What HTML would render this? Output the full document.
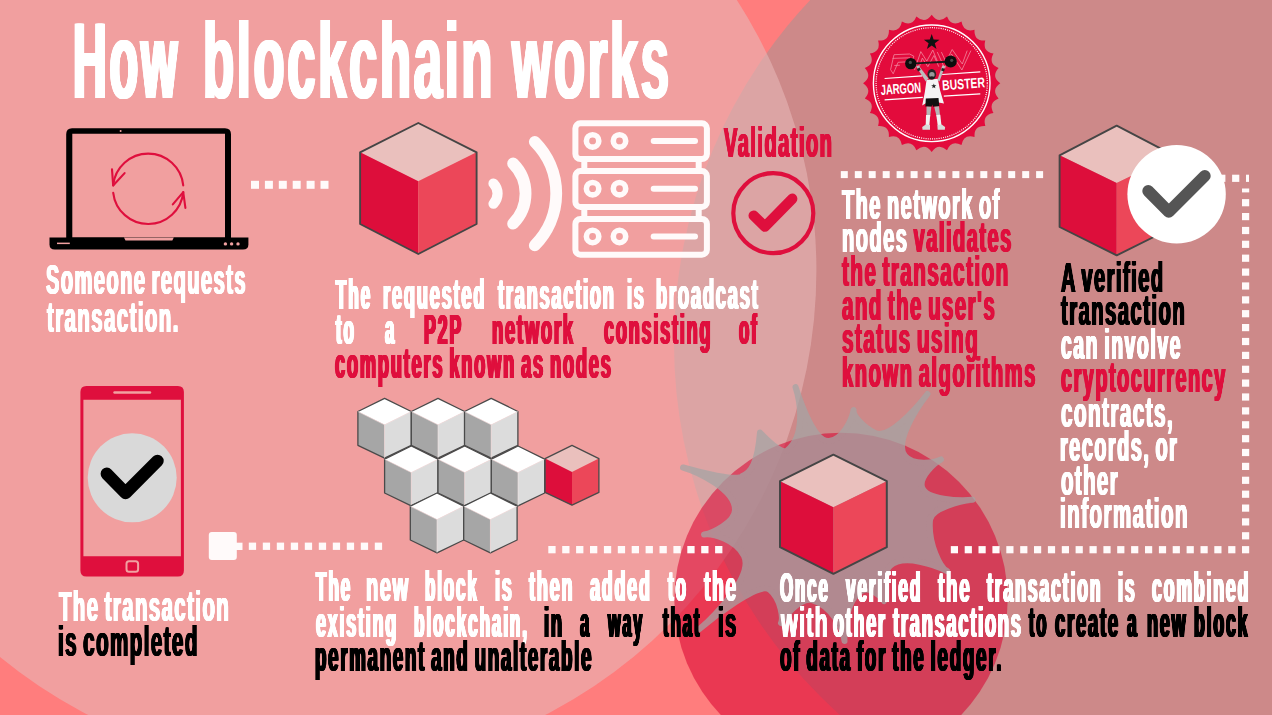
<!DOCTYPE html>
<html><head><meta charset="utf-8"><title>How blockchain works</title>
<style>
html,body{margin:0;padding:0;background:#FF7D7D;}
body{width:1272px;height:715px;position:relative;overflow:hidden;font-family:"Liberation Sans",sans-serif;}
.t{position:absolute;white-space:nowrap;font-family:"Liberation Sans",sans-serif;font-weight:bold;transform-origin:0 0;margin:0;padding:0;will-change:transform;}
</style></head>
<body>
<svg width="1272" height="715" viewBox="0 0 1272 715" style="position:absolute;left:0;top:0"><rect width="1272" height="715" fill="#FF7D7D"/><circle cx="1174" cy="343" r="500" fill="rgb(151,151,151)" fill-opacity="0.48"/><circle cx="316.7" cy="270.5" r="499.7" fill="rgb(231,185,185)" fill-opacity="0.58"/><circle cx="841" cy="599.5" r="166.7" fill="rgb(217,0,48)" fill-opacity="0.55"/><g opacity="0.73"><path d="M683.0,467.5 C696.9,471.6 739.6,482.1 742.0,476.0 C751.0,473.0 757.5,463.0 760.0,432.5 C773.1,446.2 783.1,453.6 787.0,450.5 C805.1,436.1 800.9,403.6 795.5,387.0 C801.6,405.9 815.0,442.4 829.0,441.0 C842.7,439.6 851.9,419.6 853.6,410.0 C852.8,414.6 861.8,426.5 875.0,433.0 C888.4,439.6 915.1,410.0 927.5,394.0 C915.3,409.8 894.3,442.8 905.0,456.0 C913.0,465.9 934.0,463.0 941.0,459.5 C934.2,462.9 919.1,476.9 922.0,487.0 C925.7,499.7 959.5,501.0 972.5,499.8 C960.8,500.8 931.0,508.2 930.0,520.0 C927.9,544.6 940.9,567.8 947.0,571.0 C937.4,565.9 903.0,553.0 890.0,566.0 C879.8,576.2 881.4,596.2 884.0,601.0 C882.1,597.5 871.1,587.4 864.0,590.0 C847.3,596.0 843.7,628.3 844.5,641.0 C843.8,630.6 832.3,605.5 812.0,600.0 C800.5,596.9 784.2,616.6 781.0,623.0 C783.1,618.7 781.3,599.6 770.0,590.0 C759.1,580.8 710.8,619.3 699.5,629.0 C710.9,619.3 754.1,577.0 744.0,556.0 C736.1,539.5 711.8,533.2 704.0,534.5 C712.0,533.1 734.8,522.6 735.0,510.0 C735.4,489.3 696.9,471.5 683.0,467.5Z" fill="rgb(165,165,165)" stroke="rgb(165,165,165)" stroke-width="6" stroke-linejoin="round"/></g><g><path d="M72,128.3 H225 Q231,128.3 231,134.3 V238 H66.2 V134.3 Q66.2,128.3 72,128.3 Z M72.3,133.8 V237.5 H225 V133.8 Z" fill="#000" fill-rule="evenodd"/><path d="M49.5,237.6 H248.4 V244.5 Q248.4,249.6 243,249.6 H54.8 Q49.5,249.6 49.5,244.5 Z" fill="#000"/><path d="M124,237.6 H173.8 L172.3,240.6 H125.5 Z" fill="#F1A1A1"/><rect x="57" y="242.6" width="12.8" height="1.5" fill="#F1A1A1"/><circle cx="225.4" cy="243.9" r="1.7" fill="#F1A1A1"/><circle cx="231.6" cy="243.9" r="1.7" fill="#F1A1A1"/><circle cx="238" cy="243.9" r="1.7" fill="#F1A1A1"/><circle cx="120.6" cy="130.9" r="1" fill="#F1A1A1"/><g fill="none" stroke="#DF0F3D" stroke-width="2.1" stroke-linecap="round" stroke-linejoin="round"><path d="M183.24,185.43 A35.2,35.2 0 0 0 113.16,185.43"/><path d="M112,169.4 L113.16,185.43 L124.6,173.1"/><path d="M113.23,192.78 A35.2,35.2 0 0 0 183.24,192.17"/><path d="M185.4,207.9 L183.24,192.17 L172.8,204.4"/></g></g><g fill="#FFFAFA"><rect x="251.0" y="180.8" width="8.0" height="8.0"/><rect x="264.9" y="180.8" width="8.0" height="8.0"/><rect x="278.8" y="180.8" width="8.0" height="8.0"/><rect x="292.7" y="180.8" width="8.0" height="8.0"/><rect x="306.6" y="180.8" width="8.0" height="8.0"/><rect x="320.5" y="180.8" width="8.0" height="8.0"/><rect x="840.8" y="171.1" width="7.0" height="7.0"/><rect x="854.8" y="171.1" width="7.0" height="7.0"/><rect x="868.7" y="171.1" width="7.0" height="7.0"/><rect x="882.7" y="171.1" width="7.0" height="7.0"/><rect x="896.6" y="171.1" width="7.0" height="7.0"/><rect x="910.6" y="171.1" width="7.0" height="7.0"/><rect x="924.5" y="171.1" width="7.0" height="7.0"/><rect x="938.5" y="171.1" width="7.0" height="7.0"/><rect x="952.4" y="171.1" width="7.0" height="7.0"/><rect x="966.4" y="171.1" width="7.0" height="7.0"/><rect x="980.3" y="171.1" width="7.0" height="7.0"/><rect x="994.3" y="171.1" width="7.0" height="7.0"/><rect x="1008.2" y="171.1" width="7.0" height="7.0"/><rect x="1022.2" y="171.1" width="7.0" height="7.0"/><rect x="1036.1" y="171.1" width="7.0" height="7.0"/><rect x="1232.1" y="174.7" width="7.2" height="7.2"/><rect x="1218.2" y="174.7" width="7.2" height="7.2"/><rect x="1204.4" y="174.7" width="7.2" height="7.2"/><rect x="1246" y="174.7" width="3" height="7.2"/><rect x="1242.0" y="546.1" width="7.2" height="7.2"/><rect x="1242.0" y="532.2" width="7.2" height="7.2"/><rect x="1242.0" y="518.3" width="7.2" height="7.2"/><rect x="1242.0" y="504.5" width="7.2" height="7.2"/><rect x="1242.0" y="490.6" width="7.2" height="7.2"/><rect x="1242.0" y="476.7" width="7.2" height="7.2"/><rect x="1242.0" y="462.8" width="7.2" height="7.2"/><rect x="1242.0" y="448.9" width="7.2" height="7.2"/><rect x="1242.0" y="435.1" width="7.2" height="7.2"/><rect x="1242.0" y="421.2" width="7.2" height="7.2"/><rect x="1242.0" y="407.3" width="7.2" height="7.2"/><rect x="1242.0" y="393.4" width="7.2" height="7.2"/><rect x="1242.0" y="379.5" width="7.2" height="7.2"/><rect x="1242.0" y="365.7" width="7.2" height="7.2"/><rect x="1242.0" y="351.8" width="7.2" height="7.2"/><rect x="1242.0" y="337.9" width="7.2" height="7.2"/><rect x="1242.0" y="324.0" width="7.2" height="7.2"/><rect x="1242.0" y="310.1" width="7.2" height="7.2"/><rect x="1242.0" y="296.3" width="7.2" height="7.2"/><rect x="1242.0" y="282.4" width="7.2" height="7.2"/><rect x="1242.0" y="268.5" width="7.2" height="7.2"/><rect x="1242.0" y="254.6" width="7.2" height="7.2"/><rect x="1242.0" y="240.7" width="7.2" height="7.2"/><rect x="1242.0" y="226.9" width="7.2" height="7.2"/><rect x="1242.0" y="213.0" width="7.2" height="7.2"/><rect x="1242.0" y="199.1" width="7.2" height="7.2"/><rect x="1242.0" y="188.5" width="7.2" height="3.9"/><rect x="1228.2" y="546.1" width="7.2" height="7.2"/><rect x="1214.3" y="546.1" width="7.2" height="7.2"/><rect x="1200.5" y="546.1" width="7.2" height="7.2"/><rect x="1186.6" y="546.1" width="7.2" height="7.2"/><rect x="1172.7" y="546.1" width="7.2" height="7.2"/><rect x="1158.9" y="546.1" width="7.2" height="7.2"/><rect x="1145.0" y="546.1" width="7.2" height="7.2"/><rect x="1131.1" y="546.1" width="7.2" height="7.2"/><rect x="1117.2" y="546.1" width="7.2" height="7.2"/><rect x="1103.4" y="546.1" width="7.2" height="7.2"/><rect x="1089.5" y="546.1" width="7.2" height="7.2"/><rect x="1075.6" y="546.1" width="7.2" height="7.2"/><rect x="1061.8" y="546.1" width="7.2" height="7.2"/><rect x="1047.9" y="546.1" width="7.2" height="7.2"/><rect x="1034.0" y="546.1" width="7.2" height="7.2"/><rect x="1020.2" y="546.1" width="7.2" height="7.2"/><rect x="1006.3" y="546.1" width="7.2" height="7.2"/><rect x="992.4" y="546.1" width="7.2" height="7.2"/><rect x="978.5" y="546.1" width="7.2" height="7.2"/><rect x="964.7" y="546.1" width="7.2" height="7.2"/><rect x="950.8" y="546.1" width="7.2" height="7.2"/><rect x="548.3" y="546.0" width="7.3" height="7.3"/><rect x="562.2" y="546.0" width="7.3" height="7.3"/><rect x="576.1" y="546.0" width="7.3" height="7.3"/><rect x="590.0" y="546.0" width="7.3" height="7.3"/><rect x="603.9" y="546.0" width="7.3" height="7.3"/><rect x="617.8" y="546.0" width="7.3" height="7.3"/><rect x="631.7" y="546.0" width="7.3" height="7.3"/><rect x="645.6" y="546.0" width="7.3" height="7.3"/><rect x="659.5" y="546.0" width="7.3" height="7.3"/><rect x="673.4" y="546.0" width="7.3" height="7.3"/><rect x="687.3" y="546.0" width="7.3" height="7.3"/><rect x="701.2" y="546.0" width="7.3" height="7.3"/><rect x="715.1" y="546.0" width="7.3" height="7.3"/><rect x="208.8" y="532" width="28" height="28" rx="3"/><rect x="236" y="542.7" width="6.5" height="7.3"/><rect x="248.8" y="542.6" width="7.3" height="7.3"/><rect x="262.8" y="542.6" width="7.3" height="7.3"/><rect x="276.8" y="542.6" width="7.3" height="7.3"/><rect x="290.8" y="542.6" width="7.3" height="7.3"/><rect x="304.8" y="542.6" width="7.3" height="7.3"/><rect x="318.8" y="542.6" width="7.3" height="7.3"/><rect x="332.8" y="542.6" width="7.3" height="7.3"/><rect x="346.8" y="542.6" width="7.3" height="7.3"/><rect x="360.8" y="542.6" width="7.3" height="7.3"/><rect x="374.8" y="542.6" width="7.3" height="7.3"/></g><polygon points="418.3,123.0 476.6,152.3 418.3,181.3 360.1,152.3" fill="#EAC0BD"/><polygon points="360.1,152.3 418.3,181.3 418.3,254.0 360.1,224.0" fill="#DD0E3B"/><polygon points="418.3,181.3 476.6,152.3 476.6,224.0 418.3,254.0" fill="#EC4759"/><polygon points="418.3,123.0 476.6,152.3 476.6,224.0 418.3,254.0 360.1,224.0 360.1,152.3" fill="none" stroke="#454545" stroke-width="1.9" stroke-linejoin="round"/><g fill="none" stroke="#FFFAFA" stroke-linecap="round"><path d="M534.8,141.8 A73.3,73.3 0 0 1 534.8,245.4" stroke-width="11.8"/><path d="M513.1,163.5 A42.6,42.6 0 0 1 513.1,223.7" stroke-width="11.8"/><path d="M493.5,183.5 A14.6,14.6 0 0 1 493.5,203.7" stroke-width="10.2"/></g><g fill="none" stroke="#FFFAFA" stroke-width="6"><rect x="575.4" y="123.3" width="131.5" height="35.8" rx="5"/><rect x="575.4" y="171.1" width="131.5" height="35.8" rx="5"/><rect x="575.4" y="218.9" width="131.5" height="35.8" rx="5"/><path d="M584.3,159 V171 M698.7,159 V171 M584.3,207 V219 M698.7,207 V219"/></g><g fill="none" stroke="#FFFAFA"><circle cx="592.6" cy="140.9" r="6.2" stroke-width="5.6"/><circle cx="619.5" cy="140.9" r="6.2" stroke-width="5.6"/><line x1="653.7" y1="140.9" x2="695" y2="140.9" stroke-width="6" stroke-linecap="round"/><circle cx="592.6" cy="188.7" r="6.2" stroke-width="5.6"/><circle cx="619.5" cy="188.7" r="6.2" stroke-width="5.6"/><line x1="653.7" y1="188.7" x2="695" y2="188.7" stroke-width="6" stroke-linecap="round"/><circle cx="592.6" cy="236.5" r="6.2" stroke-width="5.6"/><circle cx="619.5" cy="236.5" r="6.2" stroke-width="5.6"/><line x1="653.7" y1="236.5" x2="695" y2="236.5" stroke-width="6" stroke-linecap="round"/></g><circle cx="773.3" cy="213.2" r="40" fill="none" stroke="#DF0F3D" stroke-width="4.2"/><path d="M753.7,215.6 L764.9,226.6 L792.2,198.8" fill="none" stroke="#DF0F3D" stroke-width="10.4" stroke-linecap="round" stroke-linejoin="round"/><g><path d="M1000.3,83.3 Q990.8,90.0 998.6,98.6 Q987.9,103.0 993.5,113.1 Q982.1,115.0 985.3,126.1 Q973.8,125.4 974.5,136.9 Q963.4,133.7 961.5,145.1 Q951.4,139.5 947.0,150.2 Q938.4,142.4 931.7,151.9 Q925.0,142.4 916.4,150.2 Q912.0,139.5 901.9,145.1 Q900.0,133.7 888.9,136.9 Q889.6,125.4 878.1,126.1 Q881.3,115.0 869.9,113.1 Q875.5,103.0 864.8,98.6 Q872.6,90.0 863.1,83.3 Q872.6,76.6 864.8,68.0 Q875.5,63.6 869.9,53.5 Q881.3,51.6 878.1,40.5 Q889.6,41.2 888.9,29.7 Q900.0,32.9 901.9,21.5 Q912.0,27.1 916.4,16.4 Q925.0,24.2 931.7,14.7 Q938.4,24.2 947.0,16.4 Q951.4,27.1 961.5,21.5 Q963.4,32.9 974.5,29.7 Q973.8,41.2 985.3,40.5 Q982.1,51.6 993.5,53.5 Q987.9,63.6 998.6,68.0 Q990.8,76.6 1000.3,83.3Z" fill="#E30B3C"/><circle cx="931.7" cy="83.3" r="58.3" fill="none" stroke="#fff" stroke-width="1.4"/><circle cx="931.7" cy="83.3" r="55.6" fill="none" stroke="#fff" stroke-width="1.2" stroke-dasharray="1 1.2"/><polygon points="931.7,34.1 933.6,39.6 939.5,39.8 934.8,43.3 936.5,48.9 931.7,45.6 926.9,48.9 928.6,43.3 923.9,39.8 929.8,39.6" fill="#111"/><g fill="none" stroke="#f59db0" stroke-width="0.75" stroke-linejoin="round" opacity="0.9"><polyline points="890.6,69.6 894.0,54.7 909.6,54.0 913.8,56.2 912.6,59.9 907.4,61.8 898.1,62.3 893.2,73.8 890.6,69.6"/><polyline points="892.5,58.4 910.0,57.8"/><polyline points="894.3,65.5 899.9,65.2"/><polyline points="914.5,70.0 920.8,51.6 926.8,61.1 932.8,50.1 937.3,61.1"/><polyline points="918.2,70.0 922.3,58.1 927.9,66.7 933.9,55.5 938.8,66.7"/><polyline points="937.3,52.1 944.7,68.3 951.5,54.0 961.9,70.0 970.9,50.6"/><polyline points="941.4,52.1 945.9,61.8 952.2,49.5 962.3,64.0 967.2,50.6"/></g><g stroke="#fff" stroke-width="1.2"><path d="M884.6,78.5 L922.2,75.9 M942.2,74.5 L980.3,71.9"/><path d="M884.6,99.8 L922.8,97.4 M943.8,96.1 L980.3,93.8"/></g><g font-family="Liberation Sans, sans-serif" font-weight="bold" font-size="14.3" fill="#fff"><text transform="translate(880.9,94.9) rotate(-3.8)" textLength="40.6" lengthAdjust="spacingAndGlyphs">JARGON</text><text transform="translate(942.5,90.3) rotate(-4.0)" textLength="42.8" lengthAdjust="spacingAndGlyphs">BUSTER</text></g><g><polygon points="926.5,79.9 937.8,78.8 940.1,90.5 944.0,103.5 938.5,102.4 925.8,103.2 922.2,105.4 924.9,91.8" fill="#f4f4f4"/><polygon points="925.8,81.5 916.1,66.6 918.5,65.2 928.5,78.5" fill="#bdbdbd"/><polygon points="937.4,79.9 942.4,65.2 945.1,66.0 939.5,81.5" fill="#bdbdbd"/><polygon points="916.9,69.0 919.6,67.6 920.7,70.0 918.0,71.4" fill="#222"/><polygon points="941.9,67.9 944.8,68.7 944.0,71.4 941.1,70.6" fill="#222"/><polygon points="925.8,98.5 938.5,97.9 939.3,106.2 932.9,106.7 932.3,104.6 931.5,106.7 925.4,106.4" fill="#111"/><polygon points="926.5,106.4 931.3,106.7 930.2,116.4 926.5,116.4" fill="#b5b5b5"/><polygon points="934.2,106.7 939.0,106.2 940.1,116.0 936.6,116.4" fill="#b5b5b5"/><polygon points="926.0,115.1 930.2,115.1 929.4,125.3 925.7,125.3" fill="#f2f2f2"/><polygon points="936.3,115.1 940.3,114.7 941.4,125.0 937.7,125.3" fill="#f2f2f2"/><polygon points="922.2,127.0 925.8,124.5 930.0,125.0 930.0,129.8 922.5,129.8" fill="#d8d8d8"/><polygon points="937.4,125.0 941.6,124.5 945.1,127.0 944.8,129.8 937.7,129.8" fill="#d8d8d8"/><ellipse cx="931.8" cy="74.3" rx="4.3" ry="5.2" fill="#262626"/><ellipse cx="931.9" cy="74.7" rx="2.7" ry="2.6" fill="#9a9a9a"/><ellipse cx="931.8" cy="77.7" rx="2.9" ry="1.5" fill="#1c1c1c"/><polygon points="933.8,83.4 934.5,85.2 936.4,85.3 934.9,86.4 935.4,88.3 933.8,87.2 932.2,88.3 932.8,86.4 931.2,85.3 933.2,85.2" fill="#222"/><line x1="910.8" y1="63.6" x2="950.7" y2="61.5" stroke="#1a1a1a" stroke-width="1.8"/><circle cx="910.8" cy="63.6" r="5.7" fill="#0d0d0d"/><circle cx="950.7" cy="61.5" r="6.1" fill="#0d0d0d"/><circle cx="910.3" cy="62.4" r="1.6" fill="#4a4a4a"/><circle cx="951.7" cy="60.3" r="1.6" fill="#4a4a4a"/></g></g><polygon points="1116.7,125.6 1173.8,155.3 1116.7,183.0 1059.6,155.3" fill="#EAC0BD"/><polygon points="1059.6,155.3 1116.7,183.0 1116.7,255.4 1059.6,227.0" fill="#DD0E3B"/><polygon points="1116.7,183.0 1173.8,155.3 1173.8,227.0 1116.7,255.4" fill="#EC4759"/><polygon points="1116.7,125.6 1173.8,155.3 1173.8,227.0 1116.7,255.4 1059.6,227.0 1059.6,155.3" fill="none" stroke="#454545" stroke-width="1.9" stroke-linejoin="round"/><circle cx="1176.6" cy="194.3" r="49.2" fill="#fff"/><path d="M1148.2,191 L1168.8,211.9 L1204.8,175.9" fill="none" stroke="#555" stroke-width="11.8" stroke-linecap="round" stroke-linejoin="round"/><polygon points="833.4,454.7 886.8,481.2 833.4,507.2 780.0,481.2" fill="#EAC0BD"/><polygon points="780.0,481.2 833.4,507.2 833.4,573.8 780.0,547.2" fill="#DD0E3B"/><polygon points="833.4,507.2 886.8,481.2 886.8,547.2 833.4,573.8" fill="#EC4759"/><polygon points="833.4,454.7 886.8,481.2 886.8,547.2 833.4,573.8 780.0,547.2 780.0,481.2" fill="none" stroke="#454545" stroke-width="2.0" stroke-linejoin="round"/><polygon points="384.6,398.3 411.3,411.5 384.6,424.8 357.9,411.5" fill="#FFFFFF"/><polygon points="357.9,411.5 384.6,424.8 384.6,458.1 357.9,445.3" fill="#A6A6A6"/><polygon points="384.6,424.8 411.3,411.5 411.3,445.3 384.6,458.1" fill="#DCDCDC"/><polygon points="384.6,398.3 411.3,411.5 411.3,445.3 384.6,458.1 357.9,445.3 357.9,411.5" fill="none" stroke="#4a4a4a" stroke-width="1.3" stroke-linejoin="round"/><polyline points="357.9,411.5 384.6,424.8 411.3,411.5" fill="none" stroke="#f3e4e4" stroke-width="0.6"/><polyline points="384.6,424.8 384.6,458.1" fill="none" stroke="#f3e4e4" stroke-width="0.6"/><polygon points="438.0,398.3 464.7,411.5 438.0,424.8 411.3,411.5" fill="#FFFFFF"/><polygon points="411.3,411.5 438.0,424.8 438.0,458.1 411.3,445.3" fill="#A6A6A6"/><polygon points="438.0,424.8 464.7,411.5 464.7,445.3 438.0,458.1" fill="#DCDCDC"/><polygon points="438.0,398.3 464.7,411.5 464.7,445.3 438.0,458.1 411.3,445.3 411.3,411.5" fill="none" stroke="#4a4a4a" stroke-width="1.3" stroke-linejoin="round"/><polyline points="411.3,411.5 438.0,424.8 464.7,411.5" fill="none" stroke="#f3e4e4" stroke-width="0.6"/><polyline points="438.0,424.8 438.0,458.1" fill="none" stroke="#f3e4e4" stroke-width="0.6"/><polygon points="491.2,398.3 517.9,411.5 491.2,424.8 464.5,411.5" fill="#FFFFFF"/><polygon points="464.5,411.5 491.2,424.8 491.2,458.1 464.5,445.3" fill="#A6A6A6"/><polygon points="491.2,424.8 517.9,411.5 517.9,445.3 491.2,458.1" fill="#DCDCDC"/><polygon points="491.2,398.3 517.9,411.5 517.9,445.3 491.2,458.1 464.5,445.3 464.5,411.5" fill="none" stroke="#4a4a4a" stroke-width="1.3" stroke-linejoin="round"/><polyline points="464.5,411.5 491.2,424.8 517.9,411.5" fill="none" stroke="#f3e4e4" stroke-width="0.6"/><polyline points="491.2,424.8 491.2,458.1" fill="none" stroke="#f3e4e4" stroke-width="0.6"/><polygon points="411.3,446.0 438.0,459.2 411.3,472.5 384.6,459.2" fill="#FFFFFF"/><polygon points="384.6,459.2 411.3,472.5 411.3,505.8 384.6,493.0" fill="#A6A6A6"/><polygon points="411.3,472.5 438.0,459.2 438.0,493.0 411.3,505.8" fill="#DCDCDC"/><polygon points="411.3,446.0 438.0,459.2 438.0,493.0 411.3,505.8 384.6,493.0 384.6,459.2" fill="none" stroke="#4a4a4a" stroke-width="1.3" stroke-linejoin="round"/><polyline points="384.6,459.2 411.3,472.5 438.0,459.2" fill="none" stroke="#f3e4e4" stroke-width="0.6"/><polyline points="411.3,472.5 411.3,505.8" fill="none" stroke="#f3e4e4" stroke-width="0.6"/><polygon points="464.7,446.0 491.4,459.2 464.7,472.5 438.0,459.2" fill="#FFFFFF"/><polygon points="438.0,459.2 464.7,472.5 464.7,505.8 438.0,493.0" fill="#A6A6A6"/><polygon points="464.7,472.5 491.4,459.2 491.4,493.0 464.7,505.8" fill="#DCDCDC"/><polygon points="464.7,446.0 491.4,459.2 491.4,493.0 464.7,505.8 438.0,493.0 438.0,459.2" fill="none" stroke="#4a4a4a" stroke-width="1.3" stroke-linejoin="round"/><polyline points="438.0,459.2 464.7,472.5 491.4,459.2" fill="none" stroke="#f3e4e4" stroke-width="0.6"/><polyline points="464.7,472.5 464.7,505.8" fill="none" stroke="#f3e4e4" stroke-width="0.6"/><polygon points="518.0,446.0 544.7,459.2 518.0,472.5 491.3,459.2" fill="#FFFFFF"/><polygon points="491.3,459.2 518.0,472.5 518.0,505.8 491.3,493.0" fill="#A6A6A6"/><polygon points="518.0,472.5 544.7,459.2 544.7,493.0 518.0,505.8" fill="#DCDCDC"/><polygon points="518.0,446.0 544.7,459.2 544.7,493.0 518.0,505.8 491.3,493.0 491.3,459.2" fill="none" stroke="#4a4a4a" stroke-width="1.3" stroke-linejoin="round"/><polyline points="491.3,459.2 518.0,472.5 544.7,459.2" fill="none" stroke="#f3e4e4" stroke-width="0.6"/><polyline points="518.0,472.5 518.0,505.8" fill="none" stroke="#f3e4e4" stroke-width="0.6"/><polygon points="572.0,445.4 598.9,458.6 572.0,471.9 545.1,458.6" fill="#EAC0BD"/><polygon points="545.1,458.6 572.0,471.9 572.0,505.2 545.1,492.4" fill="#DD0E3B"/><polygon points="572.0,471.9 598.9,458.6 598.9,492.4 572.0,505.2" fill="#EC4759"/><polygon points="572.0,445.4 598.9,458.6 598.9,492.4 572.0,505.2 545.1,492.4 545.1,458.6" fill="none" stroke="#4a4a4a" stroke-width="1.3" stroke-linejoin="round"/><polygon points="437.0,493.0 463.7,506.2 437.0,519.5 410.3,506.2" fill="#FFFFFF"/><polygon points="410.3,506.2 437.0,519.5 437.0,552.8 410.3,540.0" fill="#A6A6A6"/><polygon points="437.0,519.5 463.7,506.2 463.7,540.0 437.0,552.8" fill="#DCDCDC"/><polygon points="437.0,493.0 463.7,506.2 463.7,540.0 437.0,552.8 410.3,540.0 410.3,506.2" fill="none" stroke="#4a4a4a" stroke-width="1.3" stroke-linejoin="round"/><polyline points="410.3,506.2 437.0,519.5 463.7,506.2" fill="none" stroke="#f3e4e4" stroke-width="0.6"/><polyline points="437.0,519.5 437.0,552.8" fill="none" stroke="#f3e4e4" stroke-width="0.6"/><polygon points="490.4,493.0 517.1,506.2 490.4,519.5 463.7,506.2" fill="#FFFFFF"/><polygon points="463.7,506.2 490.4,519.5 490.4,552.8 463.7,540.0" fill="#A6A6A6"/><polygon points="490.4,519.5 517.1,506.2 517.1,540.0 490.4,552.8" fill="#DCDCDC"/><polygon points="490.4,493.0 517.1,506.2 517.1,540.0 490.4,552.8 463.7,540.0 463.7,506.2" fill="none" stroke="#4a4a4a" stroke-width="1.3" stroke-linejoin="round"/><polyline points="463.7,506.2 490.4,519.5 517.1,506.2" fill="none" stroke="#f3e4e4" stroke-width="0.6"/><polyline points="490.4,519.5 490.4,552.8" fill="none" stroke="#f3e4e4" stroke-width="0.6"/><path d="M86.4,386.1 H177.9 Q183.9,386.1 183.9,392.1 V570.4 Q183.9,576.4 177.9,576.4 H86.4 Q80.4,576.4 80.4,570.4 V392.1 Q80.4,386.1 86.4,386.1 Z M83.4,399.7 V556.3 H180.9 V399.7 Z" fill="#DF0F3D" fill-rule="evenodd"/><line x1="114.5" y1="392.5" x2="150" y2="392.5" stroke="#F1A1A1" stroke-width="2.4" stroke-linecap="round"/><rect x="126.5" y="561.2" width="11.6" height="10.6" rx="2.5" fill="none" stroke="#F1A1A1" stroke-width="2"/><circle cx="132.2" cy="477.8" r="44.5" fill="#D9D9D9"/><path d="M106.8,473.8 L125.5,493 L157.5,460.9" fill="none" stroke="#000" stroke-width="12.4" stroke-linecap="round" stroke-linejoin="round"/></svg>
<div class="t" style="left:73.08px;top:8.02px;font-size:107px;line-height:107px;letter-spacing:7.01px;word-spacing:-10.12px;transform:scaleX(0.4342);"><span style="color:#FFFFFF;text-shadow:3.51px 0 #FFFFFF,-3.51px 0 #FFFFFF,1.75px 0 #FFFFFF,-1.75px 0 #FFFFFF">How</span></div>
<div class="t" style="left:202.54px;top:8.02px;font-size:107px;line-height:107px;letter-spacing:5.34px;word-spacing:-10.12px;transform:scaleX(0.4768);"><span style="color:#FFFFFF;text-shadow:2.67px 0 #FFFFFF,-2.67px 0 #FFFFFF,1.34px 0 #FFFFFF,-1.34px 0 #FFFFFF">blockchain</span></div>
<div class="t" style="left:511.97px;top:8.02px;font-size:107px;line-height:107px;letter-spacing:5.48px;word-spacing:-10.12px;transform:scaleX(0.4738);"><span style="color:#FFFFFF;text-shadow:2.74px 0 #FFFFFF,-2.74px 0 #FFFFFF,1.37px 0 #FFFFFF,-1.37px 0 #FFFFFF">works</span></div>
<div class="t" style="left:46.28px;top:259.19px;font-size:42.3px;line-height:42.3px;letter-spacing:3.18px;word-spacing:-4.00px;transform:scaleX(0.4726);"><span style="color:#FFFFFF;text-shadow:1.59px 0 #FFFFFF,-1.59px 0 #FFFFFF,0.79px 0 #FFFFFF,-0.79px 0 #FFFFFF">Someone requests</span></div>
<div class="t" style="left:46.72px;top:296.69px;font-size:42.3px;line-height:42.3px;letter-spacing:2.99px;word-spacing:-4.00px;transform:scaleX(0.4818);"><span style="color:#FFFFFF;text-shadow:1.50px 0 #FFFFFF,-1.50px 0 #FFFFFF,0.75px 0 #FFFFFF,-0.75px 0 #FFFFFF">transaction.</span></div>
<div class="t" style="left:336.07px;top:274.19px;font-size:42.3px;line-height:42.3px;letter-spacing:4.83px;word-spacing:-4.00px;transform:scaleX(0.4026);"><span style="color:#FFFFFF;text-shadow:2.42px 0 #FFFFFF,-2.42px 0 #FFFFFF,1.21px 0 #FFFFFF,-1.21px 0 #FFFFFF">The</span></div>
<div class="t" style="left:383.01px;top:274.19px;font-size:42.3px;line-height:42.3px;letter-spacing:4.05px;word-spacing:-4.00px;transform:scaleX(0.4327);"><span style="color:#FFFFFF;text-shadow:2.03px 0 #FFFFFF,-2.03px 0 #FFFFFF,1.01px 0 #FFFFFF,-1.01px 0 #FFFFFF">requested</span></div>
<div class="t" style="left:498.48px;top:274.19px;font-size:42.3px;line-height:42.3px;letter-spacing:4.09px;word-spacing:-4.00px;transform:scaleX(0.4311);"><span style="color:#FFFFFF;text-shadow:2.05px 0 #FFFFFF,-2.05px 0 #FFFFFF,1.02px 0 #FFFFFF,-1.02px 0 #FFFFFF">transaction</span></div>
<div class="t" style="left:626.95px;top:274.19px;font-size:42.3px;line-height:42.3px;letter-spacing:4.24px;word-spacing:-4.00px;transform:scaleX(0.4249);"><span style="color:#FFFFFF;text-shadow:2.12px 0 #FFFFFF,-2.12px 0 #FFFFFF,1.06px 0 #FFFFFF,-1.06px 0 #FFFFFF">is</span></div>
<div class="t" style="left:655.60px;top:274.19px;font-size:42.3px;line-height:42.3px;letter-spacing:4.01px;word-spacing:-4.00px;transform:scaleX(0.4344);"><span style="color:#FFFFFF;text-shadow:2.01px 0 #FFFFFF,-2.01px 0 #FFFFFF,1.00px 0 #FFFFFF,-1.00px 0 #FFFFFF">broadcast</span></div>
<div class="t" style="left:336.08px;top:308.79px;font-size:42.3px;line-height:42.3px;letter-spacing:4.89px;word-spacing:-4.00px;transform:scaleX(0.3990);"><span style="color:#FFFFFF;text-shadow:2.45px 0 #FFFFFF,-2.45px 0 #FFFFFF,1.22px 0 #FFFFFF,-1.22px 0 #FFFFFF">to</span></div>
<div class="t" style="left:384.57px;top:308.79px;font-size:42.3px;line-height:42.3px;letter-spacing:4.89px;word-spacing:-4.00px;transform:scaleX(0.3944);"><span style="color:#FFFFFF;text-shadow:2.45px 0 #FFFFFF,-2.45px 0 #FFFFFF,1.22px 0 #FFFFFF,-1.22px 0 #FFFFFF">a</span></div>
<div class="t" style="left:424.08px;top:308.79px;font-size:42.3px;line-height:42.3px;letter-spacing:4.38px;word-spacing:-4.00px;transform:scaleX(0.4194);"><span style="color:#DF0F3D;text-shadow:2.19px 0 #DF0F3D,-2.19px 0 #DF0F3D,1.10px 0 #DF0F3D,-1.10px 0 #DF0F3D">P2P</span></div>
<div class="t" style="left:492.40px;top:308.79px;font-size:42.3px;line-height:42.3px;letter-spacing:3.99px;word-spacing:-4.00px;transform:scaleX(0.4354);"><span style="color:#DF0F3D;text-shadow:2.00px 0 #DF0F3D,-2.00px 0 #DF0F3D,1.00px 0 #DF0F3D,-1.00px 0 #DF0F3D">network</span></div>
<div class="t" style="left:604.06px;top:308.79px;font-size:42.3px;line-height:42.3px;letter-spacing:4.17px;word-spacing:-4.00px;transform:scaleX(0.4278);"><span style="color:#DF0F3D;text-shadow:2.09px 0 #DF0F3D,-2.09px 0 #DF0F3D,1.04px 0 #DF0F3D,-1.04px 0 #DF0F3D">consisting</span></div>
<div class="t" style="left:739.27px;top:308.79px;font-size:42.3px;line-height:42.3px;letter-spacing:4.89px;word-spacing:-4.00px;transform:scaleX(0.3930);"><span style="color:#DF0F3D;text-shadow:2.45px 0 #DF0F3D,-2.45px 0 #DF0F3D,1.22px 0 #DF0F3D,-1.22px 0 #DF0F3D">of</span></div>
<div class="t" style="left:335.45px;top:342.89px;font-size:42.3px;line-height:42.3px;letter-spacing:4.08px;word-spacing:-4.00px;transform:scaleX(0.4318);"><span style="color:#DF0F3D;text-shadow:2.04px 0 #DF0F3D,-2.04px 0 #DF0F3D,1.02px 0 #DF0F3D,-1.02px 0 #DF0F3D">computers known as nodes</span></div>
<div class="t" style="left:724.25px;top:121.79px;font-size:42.3px;line-height:42.3px;letter-spacing:3.19px;word-spacing:-4.00px;transform:scaleX(0.4722);"><span style="color:#DF0F3D;text-shadow:1.59px 0 #DF0F3D,-1.59px 0 #DF0F3D,0.80px 0 #DF0F3D,-0.80px 0 #DF0F3D">Validation</span></div>
<div class="t" style="left:842.46px;top:183.59px;font-size:42.3px;line-height:42.3px;letter-spacing:3.24px;word-spacing:-4.00px;transform:scaleX(0.4696);"><span style="color:#FFFFFF;text-shadow:1.62px 0 #FFFFFF,-1.62px 0 #FFFFFF,0.81px 0 #FFFFFF,-0.81px 0 #FFFFFF">The network of</span></div>
<div class="t" style="left:841.50px;top:217.09px;font-size:42.3px;line-height:42.3px;letter-spacing:3.16px;word-spacing:-4.00px;transform:scaleX(0.4733);"><span style="color:#FFFFFF;text-shadow:1.58px 0 #FFFFFF,-1.58px 0 #FFFFFF,0.79px 0 #FFFFFF,-0.79px 0 #FFFFFF">nodes </span><span style="color:#DF0F3D;text-shadow:1.58px 0 #DF0F3D,-1.58px 0 #DF0F3D,0.79px 0 #DF0F3D,-0.79px 0 #DF0F3D">validates</span></div>
<div class="t" style="left:842.39px;top:250.59px;font-size:42.3px;line-height:42.3px;letter-spacing:2.83px;word-spacing:-4.00px;transform:scaleX(0.4907);"><span style="color:#DF0F3D;text-shadow:1.41px 0 #DF0F3D,-1.41px 0 #DF0F3D,0.71px 0 #DF0F3D,-0.71px 0 #DF0F3D">the transaction</span></div>
<div class="t" style="left:842.13px;top:284.99px;font-size:42.3px;line-height:42.3px;letter-spacing:2.95px;word-spacing:-4.00px;transform:scaleX(0.4841);"><span style="color:#DF0F3D;text-shadow:1.48px 0 #DF0F3D,-1.48px 0 #DF0F3D,0.74px 0 #DF0F3D,-0.74px 0 #DF0F3D">and the user&#39;s</span></div>
<div class="t" style="left:842.09px;top:318.29px;font-size:42.3px;line-height:42.3px;letter-spacing:2.78px;word-spacing:-4.00px;transform:scaleX(0.4929);"><span style="color:#DF0F3D;text-shadow:1.39px 0 #DF0F3D,-1.39px 0 #DF0F3D,0.70px 0 #DF0F3D,-0.70px 0 #DF0F3D">status using</span></div>
<div class="t" style="left:841.67px;top:351.79px;font-size:42.3px;line-height:42.3px;letter-spacing:3.04px;word-spacing:-4.00px;transform:scaleX(0.4793);"><span style="color:#DF0F3D;text-shadow:1.52px 0 #DF0F3D,-1.52px 0 #DF0F3D,0.76px 0 #DF0F3D,-0.76px 0 #DF0F3D">known algorithms</span></div>
<div class="t" style="left:1060.77px;top:256.79px;font-size:42.3px;line-height:42.3px;letter-spacing:3.16px;word-spacing:-4.00px;transform:scaleX(0.4736);"><span style="color:#000;text-shadow:1.58px 0 #000,-1.58px 0 #000,0.79px 0 #000,-0.79px 0 #000">A verified</span></div>
<div class="t" style="left:1061.23px;top:290.29px;font-size:42.3px;line-height:42.3px;letter-spacing:3.06px;word-spacing:-4.00px;transform:scaleX(0.4784);"><span style="color:#000;text-shadow:1.53px 0 #000,-1.53px 0 #000,0.77px 0 #000,-0.77px 0 #000">transaction</span></div>
<div class="t" style="left:1060.84px;top:323.69px;font-size:42.3px;line-height:42.3px;letter-spacing:3.51px;word-spacing:-4.00px;transform:scaleX(0.4566);"><span style="color:#FFFFFF;text-shadow:1.76px 0 #FFFFFF,-1.76px 0 #FFFFFF,0.88px 0 #FFFFFF,-0.88px 0 #FFFFFF">can involve</span></div>
<div class="t" style="left:1060.79px;top:357.19px;font-size:42.3px;line-height:42.3px;letter-spacing:3.25px;word-spacing:-4.00px;transform:scaleX(0.4689);"><span style="color:#DF0F3D;text-shadow:1.63px 0 #DF0F3D,-1.63px 0 #DF0F3D,0.81px 0 #DF0F3D,-0.81px 0 #DF0F3D">cryptocurrency</span></div>
<div class="t" style="left:1060.70px;top:392.29px;font-size:42.3px;line-height:42.3px;letter-spacing:2.83px;word-spacing:-4.00px;transform:scaleX(0.4906);"><span style="color:#FFFFFF;text-shadow:1.41px 0 #FFFFFF,-1.41px 0 #FFFFFF,0.71px 0 #FFFFFF,-0.71px 0 #FFFFFF">contracts,</span></div>
<div class="t" style="left:1060.33px;top:426.19px;font-size:42.3px;line-height:42.3px;letter-spacing:3.27px;word-spacing:-4.00px;transform:scaleX(0.4678);"><span style="color:#FFFFFF;text-shadow:1.64px 0 #FFFFFF,-1.64px 0 #FFFFFF,0.82px 0 #FFFFFF,-0.82px 0 #FFFFFF">records, or</span></div>
<div class="t" style="left:1060.74px;top:459.69px;font-size:42.3px;line-height:42.3px;letter-spacing:3.01px;word-spacing:-4.00px;transform:scaleX(0.4810);"><span style="color:#FFFFFF;text-shadow:1.51px 0 #FFFFFF,-1.51px 0 #FFFFFF,0.75px 0 #FFFFFF,-0.75px 0 #FFFFFF">other</span></div>
<div class="t" style="left:1060.23px;top:493.49px;font-size:42.3px;line-height:42.3px;letter-spacing:2.89px;word-spacing:-4.00px;transform:scaleX(0.4875);"><span style="color:#FFFFFF;text-shadow:1.44px 0 #FFFFFF,-1.44px 0 #FFFFFF,0.72px 0 #FFFFFF,-0.72px 0 #FFFFFF">information</span></div>
<div class="t" style="left:58.93px;top:585.59px;font-size:42.3px;line-height:42.3px;letter-spacing:3.02px;word-spacing:-4.00px;transform:scaleX(0.4805);"><span style="color:#FFFFFF;text-shadow:1.51px 0 #FFFFFF,-1.51px 0 #FFFFFF,0.75px 0 #FFFFFF,-0.75px 0 #FFFFFF">The transaction</span></div>
<div class="t" style="left:57.93px;top:621.19px;font-size:42.3px;line-height:42.3px;letter-spacing:2.91px;word-spacing:-4.00px;transform:scaleX(0.4863);"><span style="color:#000;text-shadow:1.45px 0 #000,-1.45px 0 #000,0.73px 0 #000,-0.73px 0 #000">is completed</span></div>
<div class="t" style="left:316.03px;top:566.19px;font-size:42.3px;line-height:42.3px;letter-spacing:4.58px;word-spacing:-4.00px;transform:scaleX(0.4061);"><span style="color:#FFFFFF;text-shadow:2.29px 0 #FFFFFF,-2.29px 0 #FFFFFF,1.14px 0 #FFFFFF,-1.14px 0 #FFFFFF">The</span></div>
<div class="t" style="left:366.18px;top:566.19px;font-size:42.3px;line-height:42.3px;letter-spacing:3.07px;word-spacing:-4.00px;transform:scaleX(0.4778);"><span style="color:#FFFFFF;text-shadow:1.54px 0 #FFFFFF,-1.54px 0 #FFFFFF,0.77px 0 #FFFFFF,-0.77px 0 #FFFFFF">new</span></div>
<div class="t" style="left:424.72px;top:566.19px;font-size:42.3px;line-height:42.3px;letter-spacing:4.58px;word-spacing:-4.00px;transform:scaleX(0.4020);"><span style="color:#FFFFFF;text-shadow:2.29px 0 #FFFFFF,-2.29px 0 #FFFFFF,1.14px 0 #FFFFFF,-1.14px 0 #FFFFFF">block</span></div>
<div class="t" style="left:494.75px;top:566.19px;font-size:42.3px;line-height:42.3px;letter-spacing:4.24px;word-spacing:-4.00px;transform:scaleX(0.4249);"><span style="color:#FFFFFF;text-shadow:2.12px 0 #FFFFFF,-2.12px 0 #FFFFFF,1.06px 0 #FFFFFF,-1.06px 0 #FFFFFF">is</span></div>
<div class="t" style="left:529.10px;top:566.19px;font-size:42.3px;line-height:42.3px;letter-spacing:4.19px;word-spacing:-4.00px;transform:scaleX(0.4270);"><span style="color:#FFFFFF;text-shadow:2.10px 0 #FFFFFF,-2.10px 0 #FFFFFF,1.05px 0 #FFFFFF,-1.05px 0 #FFFFFF">then</span></div>
<div class="t" style="left:590.29px;top:566.19px;font-size:42.3px;line-height:42.3px;letter-spacing:4.31px;word-spacing:-4.00px;transform:scaleX(0.4222);"><span style="color:#FFFFFF;text-shadow:2.16px 0 #FFFFFF,-2.16px 0 #FFFFFF,1.08px 0 #FFFFFF,-1.08px 0 #FFFFFF">added</span></div>
<div class="t" style="left:667.63px;top:566.19px;font-size:42.3px;line-height:42.3px;letter-spacing:4.58px;word-spacing:-4.00px;transform:scaleX(0.4042);"><span style="color:#FFFFFF;text-shadow:2.29px 0 #FFFFFF,-2.29px 0 #FFFFFF,1.14px 0 #FFFFFF,-1.14px 0 #FFFFFF">to</span></div>
<div class="t" style="left:704.10px;top:566.19px;font-size:42.3px;line-height:42.3px;letter-spacing:3.53px;word-spacing:-4.00px;transform:scaleX(0.4557);"><span style="color:#FFFFFF;text-shadow:1.76px 0 #FFFFFF,-1.76px 0 #FFFFFF,0.88px 0 #FFFFFF,-0.88px 0 #FFFFFF">the</span></div>
<div class="t" style="left:315.59px;top:601.69px;font-size:42.3px;line-height:42.3px;letter-spacing:4.32px;word-spacing:-4.00px;transform:scaleX(0.4219);"><span style="color:#FFFFFF;text-shadow:2.16px 0 #FFFFFF,-2.16px 0 #FFFFFF,1.08px 0 #FFFFFF,-1.08px 0 #FFFFFF">existing</span></div>
<div class="t" style="left:414.42px;top:601.69px;font-size:42.3px;line-height:42.3px;letter-spacing:4.58px;word-spacing:-4.00px;transform:scaleX(0.4057);"><span style="color:#FFFFFF;text-shadow:2.29px 0 #FFFFFF,-2.29px 0 #FFFFFF,1.14px 0 #FFFFFF,-1.14px 0 #FFFFFF">blockchain,</span></div>
<div class="t" style="left:544.32px;top:601.69px;font-size:42.3px;line-height:42.3px;letter-spacing:4.07px;word-spacing:-4.00px;transform:scaleX(0.4321);"><span style="color:#000;text-shadow:2.03px 0 #000,-2.03px 0 #000,1.02px 0 #000,-1.02px 0 #000">in</span></div>
<div class="t" style="left:580.01px;top:601.69px;font-size:42.3px;line-height:42.3px;letter-spacing:4.58px;word-spacing:-4.00px;transform:scaleX(0.3952);"><span style="color:#000;text-shadow:2.29px 0 #000,-2.29px 0 #000,1.14px 0 #000,-1.14px 0 #000">a</span></div>
<div class="t" style="left:608.17px;top:601.69px;font-size:42.3px;line-height:42.3px;letter-spacing:4.58px;word-spacing:-4.00px;transform:scaleX(0.3846);"><span style="color:#000;text-shadow:2.29px 0 #000,-2.29px 0 #000,1.14px 0 #000,-1.14px 0 #000">way</span></div>
<div class="t" style="left:663.22px;top:601.69px;font-size:42.3px;line-height:42.3px;letter-spacing:4.58px;word-spacing:-4.00px;transform:scaleX(0.4000);"><span style="color:#000;text-shadow:2.29px 0 #000,-2.29px 0 #000,1.14px 0 #000,-1.14px 0 #000">that</span></div>
<div class="t" style="left:718.48px;top:601.69px;font-size:42.3px;line-height:42.3px;letter-spacing:3.08px;word-spacing:-4.00px;transform:scaleX(0.4774);"><span style="color:#000;text-shadow:1.54px 0 #000,-1.54px 0 #000,0.77px 0 #000,-0.77px 0 #000">is</span></div>
<div class="t" style="left:315.16px;top:635.59px;font-size:42.3px;line-height:42.3px;letter-spacing:3.82px;word-spacing:-4.00px;transform:scaleX(0.4429);"><span style="color:#000;text-shadow:1.91px 0 #000,-1.91px 0 #000,0.95px 0 #000,-0.95px 0 #000">permanent and unalterable</span></div>
<div class="t" style="left:780.00px;top:566.99px;font-size:42.3px;line-height:42.3px;letter-spacing:4.50px;word-spacing:-4.00px;transform:scaleX(0.4017);"><span style="color:#FFFFFF;text-shadow:2.25px 0 #FFFFFF,-2.25px 0 #FFFFFF,1.12px 0 #FFFFFF,-1.12px 0 #FFFFFF">Once</span></div>
<div class="t" style="left:845.72px;top:566.99px;font-size:42.3px;line-height:42.3px;letter-spacing:4.50px;word-spacing:-4.00px;transform:scaleX(0.4090);"><span style="color:#FFFFFF;text-shadow:2.25px 0 #FFFFFF,-2.25px 0 #FFFFFF,1.12px 0 #FFFFFF,-1.12px 0 #FFFFFF">verified</span></div>
<div class="t" style="left:938.13px;top:566.99px;font-size:42.3px;line-height:42.3px;letter-spacing:3.68px;word-spacing:-4.00px;transform:scaleX(0.4489);"><span style="color:#FFFFFF;text-shadow:1.84px 0 #FFFFFF,-1.84px 0 #FFFFFF,0.92px 0 #FFFFFF,-0.92px 0 #FFFFFF">the</span></div>
<div class="t" style="left:986.53px;top:566.99px;font-size:42.3px;line-height:42.3px;letter-spacing:4.45px;word-spacing:-4.00px;transform:scaleX(0.4170);"><span style="color:#FFFFFF;text-shadow:2.22px 0 #FFFFFF,-2.22px 0 #FFFFFF,1.11px 0 #FFFFFF,-1.11px 0 #FFFFFF">transaction</span></div>
<div class="t" style="left:1118.48px;top:566.99px;font-size:42.3px;line-height:42.3px;letter-spacing:4.38px;word-spacing:-4.00px;transform:scaleX(0.4197);"><span style="color:#FFFFFF;text-shadow:2.19px 0 #FFFFFF,-2.19px 0 #FFFFFF,1.09px 0 #FFFFFF,-1.09px 0 #FFFFFF">is</span></div>
<div class="t" style="left:1152.11px;top:566.99px;font-size:42.3px;line-height:42.3px;letter-spacing:4.44px;word-spacing:-4.00px;transform:scaleX(0.4174);"><span style="color:#FFFFFF;text-shadow:2.22px 0 #FFFFFF,-2.22px 0 #FFFFFF,1.11px 0 #FFFFFF,-1.11px 0 #FFFFFF">combined</span></div>
<div class="t" style="left:780.65px;top:601.99px;font-size:42.3px;line-height:42.3px;letter-spacing:2.53px;word-spacing:-4.00px;transform:scaleX(0.5072);"><span style="color:#FFFFFF;text-shadow:1.26px 0 #FFFFFF,-1.26px 0 #FFFFFF,0.63px 0 #FFFFFF,-0.63px 0 #FFFFFF">with</span></div>
<div class="t" style="left:832.88px;top:601.99px;font-size:42.3px;line-height:42.3px;letter-spacing:4.29px;word-spacing:-4.00px;transform:scaleX(0.4231);"><span style="color:#FFFFFF;text-shadow:2.15px 0 #FFFFFF,-2.15px 0 #FFFFFF,1.07px 0 #FFFFFF,-1.07px 0 #FFFFFF">other</span></div>
<div class="t" style="left:892.88px;top:601.99px;font-size:42.3px;line-height:42.3px;letter-spacing:4.09px;word-spacing:-4.00px;transform:scaleX(0.4314);"><span style="color:#FFFFFF;text-shadow:2.04px 0 #FFFFFF,-2.04px 0 #FFFFFF,1.02px 0 #FFFFFF,-1.02px 0 #FFFFFF">transactions</span></div>
<div class="t" style="left:1029.48px;top:601.99px;font-size:42.3px;line-height:42.3px;letter-spacing:4.50px;word-spacing:-4.00px;transform:scaleX(0.3931);"><span style="color:#000;text-shadow:2.25px 0 #000,-2.25px 0 #000,1.12px 0 #000,-1.12px 0 #000">to</span></div>
<div class="t" style="left:1055.42px;top:601.99px;font-size:42.3px;line-height:42.3px;letter-spacing:3.94px;word-spacing:-4.00px;transform:scaleX(0.4374);"><span style="color:#000;text-shadow:1.97px 0 #000,-1.97px 0 #000,0.99px 0 #000,-0.99px 0 #000">create</span></div>
<div class="t" style="left:1127.21px;top:601.99px;font-size:42.3px;line-height:42.3px;letter-spacing:4.50px;word-spacing:-4.00px;transform:scaleX(0.4110);"><span style="color:#000;text-shadow:2.25px 0 #000,-2.25px 0 #000,1.12px 0 #000,-1.12px 0 #000">a</span></div>
<div class="t" style="left:1146.75px;top:601.99px;font-size:42.3px;line-height:42.3px;letter-spacing:4.23px;word-spacing:-4.00px;transform:scaleX(0.4256);"><span style="color:#000;text-shadow:2.11px 0 #000,-2.11px 0 #000,1.06px 0 #000,-1.06px 0 #000">new</span></div>
<div class="t" style="left:1193.99px;top:601.99px;font-size:42.3px;line-height:42.3px;letter-spacing:4.45px;word-spacing:-4.00px;transform:scaleX(0.4170);"><span style="color:#000;text-shadow:2.22px 0 #000,-2.22px 0 #000,1.11px 0 #000,-1.11px 0 #000">block</span></div>
<div class="t" style="left:780.49px;top:636.19px;font-size:42.3px;line-height:42.3px;letter-spacing:3.75px;word-spacing:-4.00px;transform:scaleX(0.4459);"><span style="color:#000;text-shadow:1.87px 0 #000,-1.87px 0 #000,0.94px 0 #000,-0.94px 0 #000">of data for the ledger.</span></div>
</body></html>
